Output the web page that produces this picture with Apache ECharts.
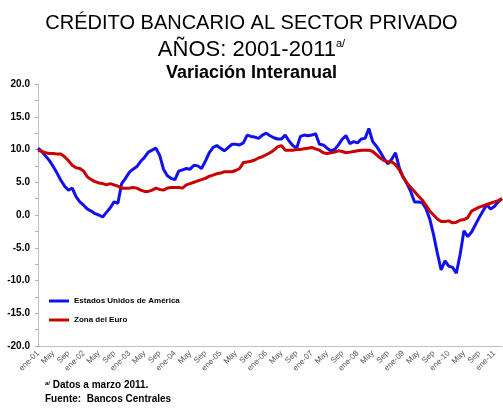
<!DOCTYPE html>
<html>
<head>
<meta charset="utf-8">
<script src="https://cdn.jsdelivr.net/npm/echarts@6/dist/echarts.min.js"></script>
<style>
  html, body { margin: 0; padding: 0; background: #fff; }
  #main { width: 503px; height: 413px; }
</style>
</head>
<body>
<div id="main"></div>
<script>
// meses: ene-01 .. mar-11
var mesesCortos = ["ene", "Feb", "Mar", "Abr", "May", "Jun", "Jul", "Ago", "Sep", "Oct", "Nov", "Dic"];
var meses = [];
for (var a = 1; a <= 11; a++) {
  for (var m = 0; m < 12; m++) {
    if (a === 11 && m > 2) break;
    meses.push(m === 0 ? "ene-" + (a < 10 ? "0" + a : a) : mesesCortos[m]);
  }
}

// Estados Unidos de América (variación interanual, %)
var eeuu = [
  10.2, 9.7, 9.0, 8.3, 7.4, 6.4, 5.3, 4.4, 3.8, 4.1, 2.8, 2.0,
  1.5, 0.9, 0.6, 0.2, 0.0, -0.3, 0.4, 1.1, 2.0, 1.8, 4.8, 5.6,
  6.5, 7.0, 7.4, 8.2, 8.8, 9.6, 9.9, 10.2, 9.1, 7.0, 6.0, 5.6,
  5.4, 6.7, 6.9, 7.1, 7.0, 7.6, 7.5, 7.1, 8.2, 9.5, 10.3, 10.6,
  10.2, 9.8, 10.3, 10.8, 10.8, 10.7, 11.0, 12.2, 12.0, 11.9, 11.7, 12.2,
  12.5, 12.1, 11.8, 11.6, 11.6, 12.2, 11.3, 10.6, 10.2, 12.0, 12.2, 12.1,
  12.2, 12.4, 10.8, 10.7, 10.2, 9.8, 10.0, 10.7, 11.6, 12.1, 10.9, 11.2,
  11.0, 11.6, 11.7, 13.2, 11.2, 10.5, 9.6, 8.6, 7.8, 8.5, 9.5, 7.2,
  5.8, 4.8, 3.6, 2.0, 2.0, 1.9, 1.0, -0.6, -3.0, -5.8, -8.4, -7.0,
  -7.8, -8.0, -8.9, -6.0, -2.4, -3.3, -2.6, -1.5, -0.4, 0.6, 1.6, 0.9,
  1.3, 2.0, 2.5
];

// Zona del Euro
var euro = [
  9.9, 9.7, 9.5, 9.4, 9.4, 9.3, 9.3, 8.9, 8.3, 7.6, 7.2, 7.1,
  6.7, 5.8, 5.4, 5.1, 4.9, 4.8, 4.6, 4.8, 4.6, 4.4, 4.1, 4.1,
  4.1, 4.2, 4.1, 3.8, 3.6, 3.6, 3.8, 4.1, 3.9, 3.8, 4.1, 4.2,
  4.2, 4.2, 4.1, 4.6, 4.8, 5.0, 5.2, 5.4, 5.6, 5.9, 6.1, 6.3,
  6.4, 6.6, 6.6, 6.6, 6.8, 7.1, 8.0, 8.1, 8.2, 8.4, 8.7, 8.9,
  9.2, 9.5, 9.9, 10.4, 10.6, 9.9, 9.9, 9.9, 10.0, 10.0, 10.1, 10.2,
  10.3, 10.1, 9.9, 9.5, 9.4, 9.5, 9.6, 9.8, 9.7, 9.5, 9.6, 9.7,
  9.8, 9.9, 9.9, 9.9, 9.7, 9.2, 8.7, 8.3, 8.1, 8.1, 7.7, 6.9,
  5.8, 4.9, 4.2, 3.6, 2.9, 2.3, 1.5, 0.6, 0.0, -0.6, -1.0, -1.0,
  -0.9, -1.2, -1.1, -0.8, -0.7, -0.4, 0.6, 0.9, 1.2, 1.4, 1.6, 1.8,
  2.0, 2.2, 2.5
];

var myChart = echarts.init(document.getElementById("main"));
var option = {
  animation: false,
  backgroundColor: "#fff",
  textStyle: { fontFamily: "Liberation Sans, Arial, sans-serif" },
  title: [
    {
      text: "CRÉDITO BANCARIO AL SECTOR PRIVADO",
      left: "center",
      top: 8,
      textStyle: { fontSize: 20, fontWeight: "normal", color: "#000" }
    },
    {
      text: "AÑOS: 2001-2011{sup|a/}",
      left: "center",
      top: 33,
      textStyle: {
        fontSize: 22, fontWeight: "normal", color: "#000",
        rich: { sup: { fontSize: 11, verticalAlign: "top", padding: [0, 0, 12, 0] } }
      }
    },
    {
      text: "Variación Interanual",
      left: "center",
      top: 59,
      textStyle: { fontSize: 18, fontWeight: "bold", color: "#000" }
    },
    {
      text: "{sup|a/} Datos a marzo 2011.\nFuente:  Bancos Centrales",
      left: 40,
      top: 373,
      textStyle: {
        fontSize: 10, fontWeight: "bold", color: "#000", lineHeight: 14,
        rich: { sup: { fontSize: 6, fontWeight: "bold", padding: [0, 0, 4, 0] } }
      }
    }
  ],
  legend: {
    orient: "vertical",
    left: 44,
    top: 292,
    itemGap: 11,
    itemWidth: 20,
    itemHeight: 3,
    icon: "rect",
    textStyle: { fontSize: 8, fontWeight: "bold", color: "#000" },
    data: ["Estados Unidos de América", "Zona del Euro"]
  },
  grid: { left: 38, right: 1, top: 84, bottom: 67 },
  xAxis: {
    type: "category",
    data: meses,
    boundaryGap: false,
    axisLine: { show: true, onZero: false, lineStyle: { color: "#c0c0c0", width: 1 } },
    axisTick: { show: false },
    axisLabel: {
      interval: 3,
      rotate: 45,
      fontSize: 8,
      color: "#555",
      margin: 6
    },
    splitLine: { show: false }
  },
  yAxis: {
    type: "value",
    min: -20,
    max: 20,
    interval: 5,
    axisLine: { show: true, lineStyle: { color: "#c0c0c0", width: 1 } },
    axisTick: { show: true, length: 3, lineStyle: { color: "#b0b0b0" } },
    minorTick: { show: true, splitNumber: 2, length: 3, lineStyle: { color: "#b0b0b0" } },
    axisLabel: {
      fontSize: 10,
      fontWeight: "bold",
      color: "#000",
      margin: 8,
      formatter: function (v) { return v.toFixed(1); }
    },
    splitLine: { show: false }
  },
  series: [
    {
      name: "Estados Unidos de América",
      type: "line",
      data: eeuu,
      symbol: "none",
      color: "#1010f0",
      lineStyle: { width: 3, color: "#1010f0" },
      z: 2
    },
    {
      name: "Zona del Euro",
      type: "line",
      data: euro,
      symbol: "none",
      color: "#c80000",
      lineStyle: { width: 3, color: "#c80000" },
      z: 3
    }
  ]
};
myChart.setOption(option);
</script>
</body>
</html>
